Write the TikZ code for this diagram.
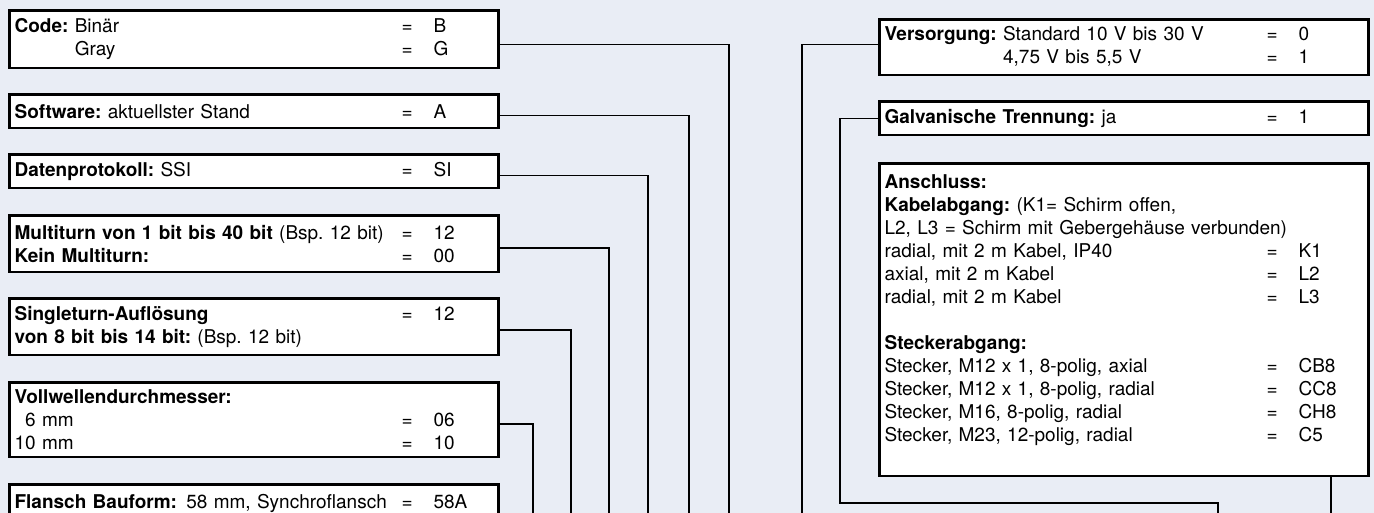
\documentclass[tikz,border=0pt]{standalone}
\usepackage{fontspec}
\setmainfont{TeX Gyre Heros}
\usetikzlibrary{calc}
\definecolor{bgblue}{HTML}{E9EDF5}
\newcommand{\optrow}[3][387pt]{\makebox[#1][l]{#2}\makebox[32pt][l]{=}#3}
\frenchspacing

\begin{document}
\begin{tikzpicture}[x=1pt,y=-1pt,inner xsep=5pt,inner ysep=0pt]
\tikzstyle{every node}=[font=\fontsize{19}{23}\selectfont]
\tikzstyle{optbox}=[draw,fill=white,line width=2.6pt,anchor=north west,align=left,text width=479pt]
\tikzstyle{wire}=[line width=1.5pt]
\useasboundingbox (0,0) rectangle (1374,513);
\fill[bgblue] (0,0) rectangle (1374,513);
\clip (0,0) rectangle (1374,513);
% left column
\node[optbox,minimum height=57.4pt] (code) at (8.3,9.3)
	{\optrow{\textbf{Code:} Binär}{B}\\ \optrow{\phantom{\textbf{Code:} }Gray}{G}};
\node[optbox,minimum height=33.4pt] (soft) at (8.3,93.3)
	{\optrow{\textbf{Software:} aktuellster Stand}{A}};
\node[optbox,minimum height=33.4pt] (proto) at (8.3,153.3)
	{\optrow{\textbf{Datenprotokoll:} SSI}{SI}};
\node[optbox,minimum height=56.4pt] (multi) at (8.3,214.3)
	{\optrow{\textbf{Multiturn von 1 bit bis 40 bit} (Bsp. 12 bit)}{12}\\ \optrow{\textbf{Kein Multiturn:}}{00}};
\node[optbox,minimum height=56.4pt] (single) at (8.3,297.3)
	{\optrow{\textbf{Singleturn-Auflösung}}{12}\\ \textbf{von 8 bit bis 14 bit:} (Bsp. 12 bit)};
\node[optbox,minimum height=74.4pt] (welle) at (8.3,381.3)
	{\textbf{Vollwellendurchmesser:}\\ \optrow{\phantom{1}6 mm}{06}\\ \optrow{10 mm}{10}};
\node[optbox,minimum height=56.4pt] (flansch) at (8.3,483.3)
	{\optrow{\textbf{Flansch Bauform:}\ \hspace{3pt}58 mm, Synchroflansch}{58A}\\ \mbox{}};
% right column
\node[optbox,minimum height=55.4pt] (vers) at (878.3,18.3)
	{\optrow[382pt]{\textbf{Versorgung:} Standard 10 V bis 30 V}{0}\\ \optrow[382pt]{\phantom{\textbf{Versorgung:} }4,75 V bis 5,5 V}{1}};
\node[optbox,minimum height=33.4pt] (galv) at (878.3,100.3)
	{\optrow[382pt]{\textbf{Galvanische Trennung:} ja}{1}};
\node[optbox,minimum height=312.4pt] (ansch) at (878.3,162.3)
	{\textbf{Anschluss:}\\
	 \textbf{Kabelabgang:} (K1= Schirm offen,\\
	 L2, L3 = Schirm mit Gebergehäuse verbunden)\\
	 \optrow[382pt]{radial, mit 2 m Kabel, IP40}{K1}\\
	 \optrow[382pt]{axial, mit 2 m Kabel}{L2}\\
	 \optrow[382pt]{radial, mit 2 m Kabel}{L3}\\[23pt]
	 \textbf{Steckerabgang:}\\
	 \optrow[382pt]{Stecker, M12 x 1, 8-polig, axial}{CB8}\\
	 \optrow[382pt]{Stecker, M12 x 1, 8-polig, radial}{CC8}\\
	 \optrow[382pt]{Stecker, M16, 8-polig, radial}{CH8}\\
	 \optrow[382pt]{Stecker, M23, 12-polig, radial}{C5}\\ \mbox{}};
% ends below the lower edge
\coordinate (codeend) at (729,520);
\coordinate (softend) at (689,520);
\coordinate (protoend) at (648,520);
\coordinate (multiend) at (609,520);
\coordinate (singleend) at (571,520);
\coordinate (welleend) at (533,520);
\coordinate (versend) at (802,520);
\coordinate (galvturn) at (840,503);
\coordinate (galvend) at (1218,520);
\coordinate (anschend) at (1331,520);
\draw[wire] ([yshift=-5pt]code.east) -| (codeend);
\draw[wire] ([yshift=-4pt]soft.east) -| (softend);
\draw[wire] ([yshift=-4pt]proto.east) -| (protoend);
\draw[wire] ([yshift=-4pt]multi.east) -| (multiend);
\draw[wire] ([yshift=-3pt]single.east) -| (singleend);
\draw[wire] ([yshift=-4pt]welle.east) -| (welleend);
\draw[wire] ([yshift=3pt]vers.west) -| (versend);
\draw[wire] (galv.west) -| (galvturn) -| (galvend);
\draw[wire] (ansch.south -| anschend) -- (anschend);
\end{tikzpicture}
\end{document}
